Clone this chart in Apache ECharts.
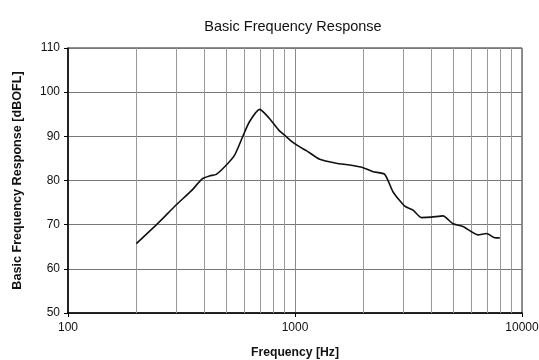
<!DOCTYPE html>
<html><head><meta charset="utf-8">
<script src="https://cdn.jsdelivr.net/npm/echarts@6/dist/echarts.min.js"></script>
<style>html,body{margin:0;padding:0;background:#fff}#c{width:539px;height:360px}</style>
</head><body><div id="c"></div>
<script>
var freqs = [200, 250, 300, 350, 391, 421, 450, 490, 542, 588, 630, 699, 770, 848, 917, 969, 1050, 1127, 1285, 1521, 1741, 1995, 2208, 2485, 2704, 3043, 3311, 3605, 3990, 4487, 4966, 5497, 6399, 6966, 7582, 7980];
var levels = [65.7, 70.4, 74.5, 77.7, 80.4, 81.05, 81.4, 83.1, 85.75, 89.9, 93.3, 96.1, 94.1, 91.4, 89.9, 88.8, 87.6, 86.7, 84.8, 83.9, 83.5, 82.9, 82.0, 81.4, 77.4, 74.2, 73.3, 71.6, 71.7, 72.0, 70.2, 69.6, 67.7, 68.0, 67.05, 67.0];
var minorGridFreqs = [200, 300, 400, 500, 600, 700, 800, 900, 2000, 3000, 4000, 5000, 6000, 7000, 8000, 9000];
var yTicks = [50, 60, 70, 80, 90, 100, 110];
var xTicks = [100, 1000, 10000];

var chart = echarts.init(document.getElementById('c'), null, {renderer: 'canvas'});
var font = 'Liberation Sans, Arial, sans-serif';
chart.setOption({
  animation: false,
  title: {
    text: 'Basic Frequency Response', left: 288, top: 14, textAlign: 'center',
    textStyle: {fontFamily: font, fontSize: 14.5, fontWeight: 'normal', color: '#111'}
  },
  grid: {left: 68, right: 17, top: 48, bottom: 47, show: true, borderColor: '#222', borderWidth: 1, outerBoundsMode: 'none', containLabel: false},
  xAxis: {
    type: 'log', logBase: 10, min: xTicks[0], max: xTicks[xTicks.length - 1],
    name: 'Frequency [Hz]', nameLocation: 'middle', nameGap: 34,
    nameTextStyle: {fontFamily: font, fontSize: 12.2, fontWeight: 'bold', color: '#111'},
    axisLine: {lineStyle: {color: '#000', width: 1.5}},
    axisTick: {show: true, length: 4, lineStyle: {color: '#000'}},
    axisLabel: {fontFamily: font, fontSize: 12, color: '#111', margin: 9, formatter: function (v) { return String(Math.round(v)); }},
    splitLine: {show: true, lineStyle: {color: '#888', width: 1}}
  },
  yAxis: {
    type: 'value', min: yTicks[0], max: yTicks[yTicks.length - 1], interval: 10,
    name: 'Basic Frequency Response [dBOFL]', nameLocation: 'middle', nameGap: 44,
    nameTextStyle: {fontFamily: font, fontSize: 12.6, fontWeight: 'bold', color: '#111'},
    axisLine: {show: true, lineStyle: {color: '#000', width: 1.5}},
    axisTick: {show: true, length: 4, lineStyle: {color: '#000'}},
    axisLabel: {fontFamily: font, fontSize: 12, color: '#111', margin: 8},
    splitLine: {show: true, lineStyle: {color: '#777', width: 1}}
  },
  series: [{
    type: 'line',
    data: freqs.map(function (f, i) { return [f, levels[i]]; }),
    smooth: 0.2, showSymbol: false,
    lineStyle: {color: '#111', width: 1.6},
    markLine: {
      silent: true, symbol: ['none', 'none'], label: {show: false},
      lineStyle: {color: '#999', width: 1, type: 'solid'},
      data: minorGridFreqs.map(function (f) { return {xAxis: f}; }),
      z: 1
    }
  }]
});
</script></body></html>
